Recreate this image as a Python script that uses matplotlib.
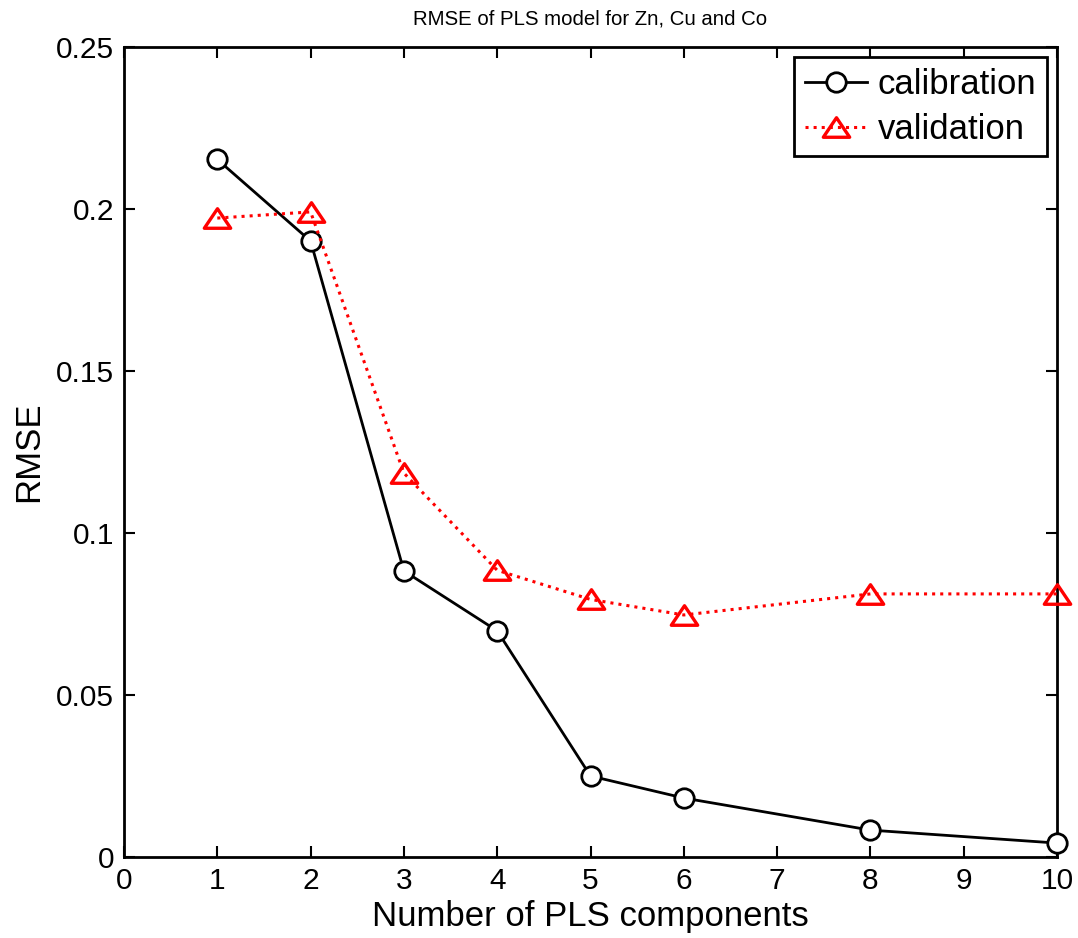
import matplotlib
matplotlib.use("Agg")
import matplotlib.pyplot as plt
from matplotlib.path import Path
import numpy as np

components = [1, 2, 3, 4, 5, 6, 8, 10]
calibration = [0.2153, 0.1901, 0.0883, 0.0698, 0.0250, 0.0182, 0.0083, 0.0043]
validation = [0.1972, 0.1991, 0.1185, 0.0885, 0.0795, 0.0747, 0.0812, 0.0812]
xticks = list(range(0, 11))
yticks = [0, 0.05, 0.1, 0.15, 0.2, 0.25]
ytick_labels = ["0", "0.05", "0.1", "0.15", "0.2", "0.25"]

plt.rcParams['font.family'] = ['Liberation Sans', 'DejaVu Sans']

fig = plt.figure(figsize=(10.78, 9.38), dpi=100)
ax = fig.add_axes([124/1078, 1-857/938, (1057-124)/1078, (857-47)/938])

tri = Path([(-1, -0.74), (1, -0.74), (0, 0.74), (-1, -0.74)],
           [Path.MOVETO, Path.LINETO, Path.LINETO, Path.CLOSEPOLY])
ax.plot(components, calibration, '-', color='black', lw=2, marker='o',
        markersize=14, markerfacecolor='white', markeredgecolor='black',
        markeredgewidth=2, label='calibration', clip_on=False, zorder=5)
ax.plot(components, validation, ':', color='red', lw=2.2, marker=tri,
        markersize=19, markerfacecolor='none', markeredgecolor='red',
        markeredgewidth=2.4, label='validation', clip_on=False, zorder=5)

ax.set_xlim(0, 10)
ax.set_ylim(0, 0.25)
ax.set_xticks(xticks)
ax.set_yticks(yticks)
ax.set_yticklabels(ytick_labels)
ax.tick_params(direction='in', length=8, width=1.5, labelsize=21.5,
               top=True, right=True, pad=7)
for s in ax.spines.values():
    s.set_linewidth(2)

ax.set_xlabel('Number of PLS components', fontsize=25, labelpad=4)
ax.set_ylabel('RMSE', fontsize=25, labelpad=8)
ax.set_title('RMSE of PLS model for Zn, Cu and Co', fontsize=14.7, pad=16)

leg = ax.legend(loc='upper right', fontsize=25, frameon=True, fancybox=False,
                borderaxespad=0.3, handlelength=1.8, handletextpad=0.3,
                borderpad=0.3, labelspacing=0.35)
leg.get_frame().set_edgecolor('black')
leg.get_frame().set_linewidth(2)
leg.get_frame().set_alpha(1)
leg.set_zorder(10)

fig.savefig('out.png', dpi=100)
